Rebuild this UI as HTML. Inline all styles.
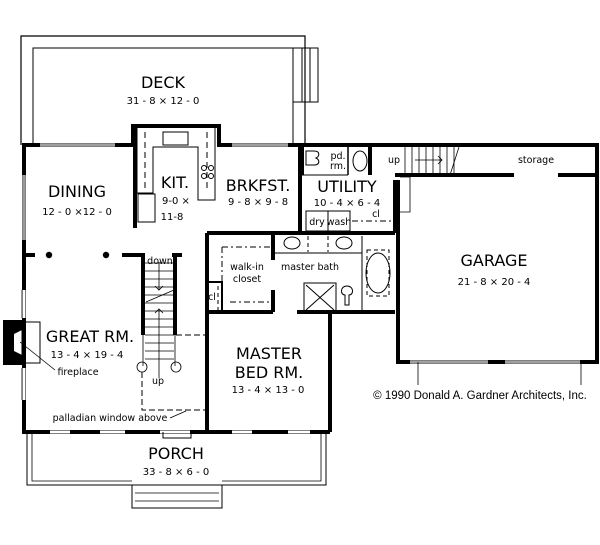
<!DOCTYPE html>
<html><head><meta charset="utf-8"><style>
html,body{margin:0;padding:0;background:#fff;}
svg{display:block;}
text{font-family:"DejaVu Sans","Liberation Sans",sans-serif;fill:#000;text-anchor:middle;}
.t{font-size:16px;}
.d{font-size:10px;}
.s{font-size:9.5px;}
</style></head><body>
<svg width="600" height="545" viewBox="0 0 600 545" xmlns="http://www.w3.org/2000/svg">
<g fill="none" stroke="#000">
<path d="M21 145 V36 H305 V145" stroke-width="1.2"/>
<path d="M33 145 V48 H293 V145" stroke-width="1"/>
<rect x="293" y="48" width="25" height="54" stroke-width="1"/>
<line x1="302" y1="48" x2="302" y2="102"/><line x1="310" y1="48" x2="310" y2="102"/>
<g stroke-width="4">
<path d="M24 145 V432 H330"/>
<path d="M22 145 H133 V126 H219 V145 H597 V362 H398 V180"/>
<path d="M300 145 V233"/>
<path d="M207 233 H395"/>
<path d="M207 233 V432"/>
<path d="M330 312 V432"/>
<path d="M297 312 H395"/>
<path d="M207 312 H273"/>
<path d="M135 126 V228"/>
<path d="M143 253 V335"/><path d="M175 253 V335"/>
<path d="M24 255 H35"/><path d="M122 255 H145"/><path d="M172 255 H182"/>
<path d="M395 175 H514"/><path d="M558 175 H597"/>
<path d="M370 145 V175"/><path d="M302 145 V175"/>
<path d="M273 233 V260"/><path d="M273 290 V312"/>
<path d="M395 233 V180"/>
</g>
<line x1="348" y1="147" x2="348" y2="175" stroke-width="1.5"/>
<line x1="302" y1="175" x2="348" y2="175" stroke-width="1"/>
<g stroke="#fff" stroke-width="3">
<line x1="24" y1="290" x2="24" y2="318"/><line x1="24" y1="368" x2="24" y2="400"/>
<line x1="50" y1="432" x2="70" y2="432"/><line x1="100" y1="432" x2="125" y2="432"/>
<line x1="160" y1="432" x2="190" y2="432"/>
<line x1="232" y1="432" x2="252" y2="432"/><line x1="288" y1="432" x2="310" y2="432"/>
<line x1="40" y1="145" x2="115" y2="145"/><line x1="232" y1="145" x2="288" y2="145"/>
<line x1="410" y1="362" x2="488" y2="362"/><line x1="505" y1="362" x2="580" y2="362"/>
<line x1="24" y1="175" x2="24" y2="240"/>
</g>
<g stroke-width="0.8">
<line x1="40" y1="145" x2="115" y2="145"/><line x1="232" y1="145" x2="288" y2="145"/>
<line x1="410" y1="362" x2="488" y2="362"/><line x1="505" y1="362" x2="580" y2="362"/>
<line x1="24" y1="175" x2="24" y2="240"/>
<line x1="22" y1="290" x2="22" y2="318"/><line x1="22" y1="368" x2="22" y2="400"/>
<line x1="418" y1="362" x2="418" y2="385"/><line x1="581" y1="362" x2="581" y2="385"/>
</g>
<path d="M137 128 V193 H153 V147 H198 V200 H215 V128" stroke-width="1"/>
<path d="M145 132 V190 M207 132 V190" stroke-dasharray="6 4"/>
<rect x="163" y="132" width="25" height="13"/>
<rect x="138" y="194" width="17" height="28"/>
<circle cx="204" cy="168" r="2.5"/><circle cx="211" cy="168" r="2.5"/>
<circle cx="204" cy="176" r="2.5"/><circle cx="211" cy="176" r="2.5"/>
<ellipse cx="360" cy="161" rx="7" ry="10"/>
<path d="M306 151 h8 c6 0 6 5 2 7 c4 2 4 7 -2 7 h-8 z"/>
<rect x="306" y="211" width="44" height="20"/>
<line x1="328" y1="211" x2="328" y2="231"/>
<line x1="352" y1="221" x2="395" y2="221" stroke-dasharray="6 3 2 3"/>
<g stroke-width="0.8">
<line x1="405" y1="147" x2="405" y2="175"/><line x1="412" y1="147" x2="412" y2="175"/>
<line x1="419" y1="147" x2="419" y2="175"/><line x1="426" y1="147" x2="426" y2="175"/>
<line x1="433" y1="147" x2="433" y2="175"/><line x1="440" y1="147" x2="440" y2="175"/>
<line x1="447" y1="147" x2="447" y2="175"/><line x1="454" y1="147" x2="454" y2="175"/>
<line x1="459" y1="147" x2="450" y2="175"/>
<line x1="415" y1="160" x2="442" y2="160"/>
<path d="M438 156 l4 4 l-4 4"/>
<path d="M400 177 H410 V212 H400"/>
</g>
<ellipse cx="292" cy="243" rx="8" ry="6"/><ellipse cx="344" cy="243" rx="8" ry="6"/>
<line x1="308" y1="236" x2="308" y2="252" stroke-dasharray="4 3"/><line x1="328" y1="236" x2="328" y2="252" stroke-dasharray="4 3"/>
<line x1="273" y1="253" x2="362" y2="253" stroke-width="1"/>
<line x1="362" y1="236" x2="362" y2="312" stroke-width="1"/>
<ellipse cx="378" cy="273" rx="12" ry="20"/>
<rect x="367" y="250" width="22" height="46" stroke-dasharray="4 3"/>
<rect x="304" y="283" width="32" height="29"/>
<path d="M306 285 L334 310 M334 285 L306 310"/>
<path d="M345 305 v-10 c-5 0 -5 -9 2 -9 c7 0 7 9 2 9 v10 z"/>
<path d="M222 247 H270 M222 247 V300 M230 302 H270" stroke-dasharray="6 3 2 3"/>
<path d="M207 282 H222 V312" stroke-width="2"/>
<line x1="218" y1="286" x2="218" y2="310" stroke-dasharray="4 3"/>
<g stroke-width="0.8">
<line x1="145" y1="263" x2="174" y2="263"/><line x1="145" y1="271" x2="174" y2="271"/>
<line x1="145" y1="279" x2="174" y2="279"/><line x1="145" y1="287" x2="174" y2="287"/>
<line x1="145" y1="295" x2="174" y2="295"/><line x1="145" y1="303" x2="174" y2="303"/>
<line x1="145" y1="311" x2="174" y2="311"/><line x1="145" y1="319" x2="174" y2="319"/>
<line x1="145" y1="327" x2="174" y2="327"/><line x1="145" y1="335" x2="174" y2="335"/>
<line x1="145" y1="343" x2="174" y2="343"/><line x1="145" y1="351" x2="174" y2="351"/>
<line x1="145" y1="359" x2="174" y2="359"/>
<line x1="143" y1="335" x2="143" y2="366"/><line x1="175" y1="335" x2="175" y2="366"/>
<line x1="146" y1="302" x2="174" y2="290"/>
<line x1="159" y1="262" x2="159" y2="290"/><path d="M155 286 l4 4 l4 -4"/>
<line x1="159" y1="310" x2="159" y2="378"/><path d="M155 313 l4 -4 l4 4"/>
<circle cx="142" cy="367" r="5"/><circle cx="176" cy="367" r="5"/>
</g>
<path d="M176 335 H209 M142 372 V410 H207" stroke-dasharray="6 3"/>
<line x1="170" y1="418" x2="186" y2="411" stroke-width="0.8"/>
<rect x="22" y="322" width="18" height="41" stroke-width="1"/>
<line x1="20" y1="342" x2="55" y2="370" stroke-width="0.8"/>
<path d="M27 434 V485 H132 M222 485 H326 V434" stroke-width="1"/>
<path d="M32 434 V481 H132 M222 481 H321 V434" stroke-width="0.8"/>
<rect x="132" y="485" width="90" height="23" stroke-width="1"/>
<line x1="135" y1="493" x2="219" y2="493" stroke-width="0.8"/><line x1="135" y1="501" x2="219" y2="501" stroke-width="0.8"/>
<path d="M163 432 v6 h28 v-6" stroke-width="1"/>
</g>
<path d="M3 320 H22 V365 H3 Z M22 330 L14 334 V351 L22 355 Z" fill="#000"/>
<circle cx="49" cy="255" r="3.2" fill="#000"/><circle cx="106" cy="255" r="3.2" fill="#000"/>
<text x="163" y="88" class="t">DECK</text>
<text x="163" y="104" class="d">31 - 8 × 12 - 0</text>
<text x="77" y="197" class="t">DINING</text>
<text x="77" y="215" class="d">12 - 0 ×12 - 0</text>
<text x="175" y="188" class="t">KIT.</text>
<text x="176" y="204" class="d">9-0 ×</text>
<text x="172" y="220" class="d">11-8</text>
<text x="258" y="191" class="t">BRKFST.</text>
<text x="258" y="205" class="d">9 - 8 × 9 - 8</text>
<text x="347" y="192" class="t">UTILITY</text>
<text x="347" y="206" class="d">10 - 4 × 6 - 4</text>
<text x="338" y="159" class="s">pd.</text><text x="338" y="169" class="s">rm.</text>
<text x="317" y="225" class="s">dry</text><text x="339" y="225" class="s">wash</text>
<text x="376" y="217" class="s">cl</text>
<text x="394" y="163" class="s">up</text>
<text x="536" y="163" class="s">storage</text>
<text x="494" y="266" class="t">GARAGE</text>
<text x="494" y="285" class="d">21 - 8 × 20 - 4</text>
<text x="247" y="270" class="s">walk-in</text><text x="247" y="282" class="s">closet</text>
<text x="310" y="270" class="s">master bath</text>
<text x="212" y="300" class="s">cl</text>
<text x="160" y="264" class="s">down</text>
<text x="158" y="384" class="s">up</text>
<text x="90" y="342" class="t">GREAT RM.</text>
<text x="87" y="358" class="d">13 - 4 × 19 - 4</text>
<text x="78" y="375" class="s">fireplace</text>
<text x="269" y="359" class="t">MASTER</text>
<text x="269" y="378" class="t">BED RM.</text>
<text x="268" y="393" class="d">13 - 4 × 13 - 0</text>
<text x="110" y="421" class="s">palladian window above</text>
<text x="176" y="459" class="t">PORCH</text>
<text x="176" y="475" class="d">33 - 8 × 6 - 0</text>
<text x="480" y="399" style="font-family:'Liberation Sans',sans-serif;font-size:11.5px">© 1990 Donald A. Gardner Architects, Inc.</text>
</svg>
</body></html>
